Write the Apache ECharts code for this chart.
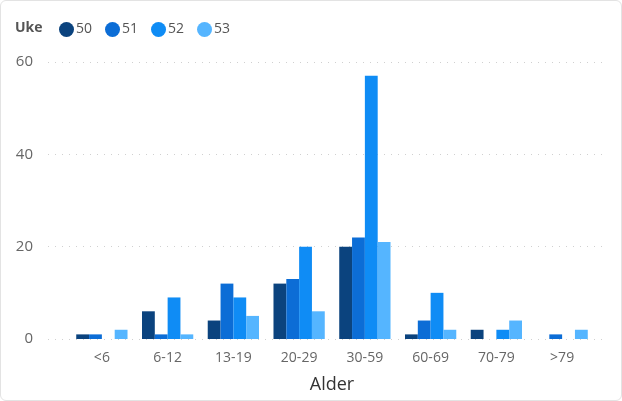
<!DOCTYPE html>
<html><head><meta charset="utf-8">
<script src="https://cdn.jsdelivr.net/npm/echarts@6/dist/echarts.min.js"></script>
<style>
html,body{margin:0;padding:0;background:#fff;}
#frame{position:absolute;left:0;top:0;width:620px;height:399px;border:1px solid #e3e3e3;border-radius:6px;}
#c{position:absolute;left:0;top:0;width:622px;height:401px;}
</style></head>
<body><div id="frame"></div><div id="c"></div>
<script>
const categories = ['<6','6-12','13-19','20-29','30-59','60-69','70-79','>79'];
const seriesNames = ['50','51','52','53'];
const uke50 = [1, 6, 4, 12, 20, 1, 2, 0];
const uke51 = [1, 1, 12, 13, 22, 4, 0, 1];
const uke52 = [0, 9, 9, 20, 57, 10, 2, 0];
const uke53 = [2, 1, 5, 6, 21, 2, 4, 2];
const yTicks = [0, 20, 40, 60];
const colors = ['#0B437E', '#0C6DD6', '#0F8CF5', '#55B5FF'];

const font = '"Open Sans", "Noto Sans", sans-serif';
const values = [uke50, uke51, uke52, uke53];
const chart = echarts.init(document.getElementById('c'), null, {renderer: 'canvas'});
chart.setOption({
  animation: false,
  textStyle: {fontFamily: font},
  title: {text: 'Uke', left: 10, top: 16, textStyle: {fontSize: 14, fontWeight: 'bold', color: '#555', fontFamily: font}},
  legend: {
    left: 54, top: 17, icon: 'circle', itemWidth: 15, itemHeight: 15, itemGap: 13,
    data: seriesNames,
    textStyle: {fontSize: 14, color: '#555', padding: [0, 0, 0, -3]}
  },
  grid: [
    {left: 48, right: 15, top: 62, bottom: 62},
    {left: 69, right: 27, top: 62, bottom: 62}
  ],
  xAxis: [
    {gridIndex: 0, type: 'value', min: 0, max: 1, show: false},
    {gridIndex: 1, type: 'category', data: categories,
     axisLine: {show: false}, axisTick: {show: false},
     axisLabel: {fontSize: 14, color: '#666', margin: 12},
     name: 'Alder', nameLocation: 'middle', nameGap: 37,
     nameTextStyle: {fontSize: 18, color: '#333', fontWeight: 500, fontFamily: font}}
  ],
  yAxis: [
    {gridIndex: 0, type: 'value', min: yTicks[0], max: yTicks[yTicks.length-1], interval: 20,
     axisLine: {show: false}, axisTick: {show: false},
     axisLabel: {fontSize: 15, color: '#666', margin: 15},
     splitLine: {lineStyle: {type: [1, 6], color: '#d0d0d0', width: 1}}},
    {gridIndex: 1, type: 'value', min: yTicks[0], max: yTicks[yTicks.length-1], interval: 20, show: false, splitLine: {show: false}}
  ],
  series: seriesNames.map((n, i) => ({
    name: n, type: 'bar', xAxisIndex: 1, yAxisIndex: 1,
    data: values[i], barGap: '0%', barCategoryGap: '22%',
    itemStyle: {color: colors[i]}
  }))
});
</script></body></html>
